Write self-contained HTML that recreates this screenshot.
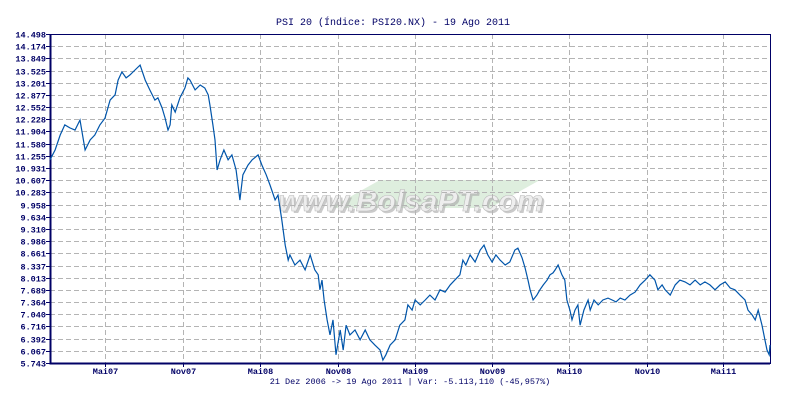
<!DOCTYPE html>
<html><head><meta charset="utf-8"><style>
body{margin:0;background:#fff;}
svg{display:block;font-family:"Liberation Mono","DejaVu Sans Mono",monospace;}
</style></head><body>
<svg id="chart" width="786" height="400" viewBox="0 0 786 400">
<text x="393" y="25" text-anchor="middle" font-size="10" fill="#000066">PSI 20 (Índice: PSI20.NX) - 19 Ago 2011</text>
<g>
<polygon points="330,208 380,180 540,180 490,208" fill="#d6ead6" opacity="0.8"/>
<text x="413" y="213" text-anchor="middle" font-family="'Liberation Sans',sans-serif" font-style="italic" font-weight="bold" font-size="30" fill="#a8a8a8" opacity="0.6">www.BolsaPT.com</text>
<text x="411" y="211" text-anchor="middle" font-family="'Liberation Sans',sans-serif" font-style="italic" font-weight="bold" font-size="30" fill="#eeeeee" stroke="#bbbbbb" stroke-width="0.6">www.BolsaPT.com</text>
</g>
<g id="grid"></g>
<g id="axes"></g>
<path id="line" fill="none" stroke="#0055aa" stroke-width="1.2"/>
<text x="410" y="384" text-anchor="middle" font-size="8.5" fill="#000066">21 Dez 2006 -&gt; 19 Ago 2011 | Var: -5.113,110 (-45,957%)</text>
</svg>
<script>
const yTicks=["14.498","14.174","13.849","13.525","13.201","12.877","12.552","12.228","11.904","11.580","11.255","10.931","10.607","10.283","9.958","9.634","9.310","8.986","8.661","8.337","8.013","7.689","7.364","7.040","6.716","6.392","6.067","5.743"];
const xTickLabels=["Mai07","Nov07","Mai08","Nov08","Mai09","Nov09","Mai10","Nov10","Mai11"];
const xTickDays=[131,315,497,681,862,1046,1227,1411,1592];
const days=[0,12,24,35,47,59,71,83,95,106,118,130,142,154,161,170,180,189,201,213,225,236,248,255,265,272,279,284,288,296,307,319,326,331,343,355,366,374,378,385,390,395,402,411,421,430,440,449,456,468,478,492,501,511,520,532,539,548,556,563,567,579,591,603,615,626,634,638,643,648,655,662,669,676,686,693,700,709,721,733,745,756,768,780,787,794,804,816,827,839,846,856,863,875,887,898,910,922,934,946,957,969,976,983,993,1005,1017,1026,1035,1045,1054,1064,1076,1087,1099,1106,1116,1123,1130,1135,1142,1151,1158,1166,1175,1182,1189,1194,1201,1210,1217,1222,1229,1234,1241,1248,1253,1262,1272,1277,1286,1296,1307,1319,1329,1338,1348,1359,1371,1383,1395,1407,1418,1430,1437,1447,1454,1466,1478,1489,1501,1513,1525,1537,1548,1560,1572,1584,1596,1608,1619,1631,1643,1650,1660,1667,1674,1683,1690,1695,1700,1702];
const values=[11.15,11.41,11.81,12.08,12.00,11.94,12.21,11.41,11.68,11.81,12.08,12.26,12.74,12.88,13.27,13.49,13.33,13.41,13.54,13.67,13.27,13.01,12.74,12.80,12.53,12.26,11.94,12.08,12.61,12.42,12.80,13.06,13.33,13.27,13.01,13.14,13.06,12.88,12.61,12.08,11.68,10.88,11.15,11.41,11.15,11.28,10.88,10.08,10.75,11.01,11.15,11.28,11.01,10.75,10.48,10.08,10.21,9.55,8.88,8.48,8.62,8.35,8.48,8.22,8.62,8.22,8.09,7.69,7.95,7.42,6.89,6.49,6.89,5.96,6.62,6.09,6.75,6.49,6.62,6.36,6.62,6.36,6.22,6.09,5.82,5.96,6.22,6.36,6.75,6.89,7.29,7.15,7.42,7.29,7.42,7.55,7.42,7.69,7.63,7.82,7.95,8.09,8.48,8.35,8.62,8.43,8.75,8.88,8.62,8.43,8.62,8.48,8.35,8.43,8.75,8.80,8.54,8.27,7.95,7.69,7.42,7.55,7.69,7.82,7.95,8.09,8.14,8.22,8.35,8.09,7.95,7.42,7.15,6.89,7.15,7.29,6.75,7.15,7.42,7.15,7.42,7.29,7.42,7.47,7.42,7.37,7.47,7.42,7.55,7.63,7.82,7.95,8.09,7.95,7.69,7.82,7.69,7.55,7.82,7.95,7.90,7.82,7.95,7.82,7.90,7.82,7.69,7.82,7.90,7.74,7.69,7.55,7.42,7.15,7.02,6.89,7.15,6.75,6.36,6.09,5.96,6.22,6.09];
const L=50,R=770,T=34,B=363,D0=0,D1=1702,V0=5.743,V1=14.498;
function xs(d){return L+(d-D0)/(D1-D0)*(R-L);}
function ys(v){return B-(v-V0)/(V1-V0)*(B-T);}
const NS="http://www.w3.org/2000/svg";
const grid=document.getElementById('grid'),axes=document.getElementById('axes');
function mk(tag,attrs,parent){const e=document.createElementNS(NS,tag);for(const k in attrs)e.setAttribute(k,attrs[k]);parent.appendChild(e);return e;}
yTicks.forEach((t,i)=>{
  const v=parseFloat(t);const y=Math.round(ys(v))+0.5;
  if(i>0&&i<yTicks.length-1){const g=mk('line',{x1:L,x2:R,y1:y,y2:y,stroke:'#b4b4b4','stroke-dasharray':'5,3'},grid);
  
  }
  const tk=mk('line',{x1:L-4,x2:L,y1:y,y2:y,stroke:'#000066'},axes);
  
  
  const tx=mk('text',{x:L-4,y:y+3,'text-anchor':'end','font-size':'8.5','font-weight':'bold',fill:'#000066'},axes);
  tx.textContent=t;
  
  
});
xTickDays.forEach((d,i)=>{
  const x=Math.round(xs(d))+0.5;
  const g=mk('line',{x1:x,x2:x,y1:T,y2:B,stroke:'#b4b4b4','stroke-dasharray':'5,3'},grid);
  
  
  const tk=mk('line',{x1:x,x2:x,y1:B,y2:B+4,stroke:'#000066'},axes);
  
  
  const tx=mk('text',{x:x,y:B+11,'text-anchor':'middle','font-size':'8.5','font-weight':'bold',fill:'#000066'},axes);
  tx.textContent=xTickLabels[i];
  
  
});
const frame=mk('rect',{x:L+0.5,y:T+0.5,width:R-L,height:B-T,fill:'none',stroke:'#000066','stroke-width':'1'},axes);


const ax=mk('path',{d:`M${L+0.5},${T} V${B+0.5} H${R}`,fill:'none',stroke:'#000066','stroke-width':'2'},axes);


const n=Math.min(days.length,values.length);
let p='';for(let i=0;i<n;i++){p+=(i?'L':'M')+xs(days[i]).toFixed(1)+','+ys(values[i]).toFixed(1);}
document.getElementById('line').setAttribute('d',p);
</script>
</body></html>
